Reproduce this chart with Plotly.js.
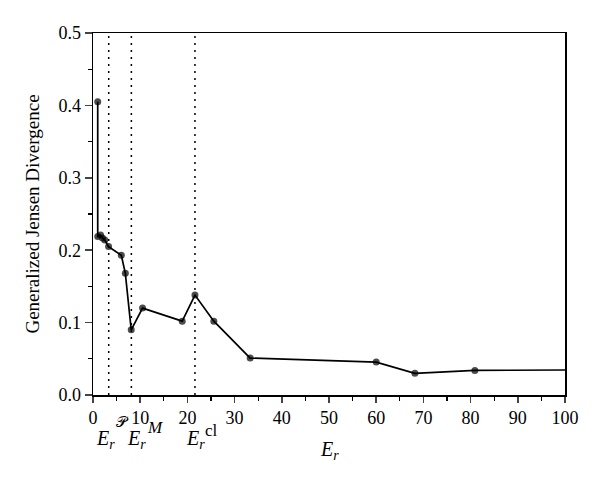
<!DOCTYPE html>
<html>
<head>
<meta charset="utf-8">
<script src="https://cdn.plot.ly/plotly-3.0.1.min.js"></script>
<style>html,body{margin:0;padding:0;background:#fff;}#chart{width:600px;height:483px;}</style>
</head>
<body>
<div id="chart"></div>
<script>
var erValues = [1.0, 1.0, 1.6, 2.0, 2.5, 3.3, 6.0, 6.85, 8.1, 10.5, 18.9, 21.6, 25.6, 33.3, 60.0, 68.2, 80.9, 100];
var jsdValues = [0.405, 0.219, 0.221, 0.217, 0.214, 0.205, 0.193, 0.168, 0.090, 0.120, 0.102, 0.138, 0.102, 0.051, 0.0455, 0.030, 0.034, 0.0345];
var markerSizes = [7, 7, 7, 7, 7, 7, 7, 7, 7, 7, 7, 7, 7, 7, 7, 7, 7, 0];
var thresholds = [3.33, 8.13, 21.6];
var xTickVals = [0, 10, 20, 30, 40, 50, 60, 70, 80, 90, 100];
var yTickVals = [0.0, 0.1, 0.2, 0.3, 0.4, 0.5];
var yTickText = ["0.0", "0.1", "0.2", "0.3", "0.4", "0.5"];

var serif = "Liberation Serif, Times New Roman, serif";

var trace = {
  x: erValues, y: jsdValues, type: 'scatter', mode: 'lines+markers',
  line: {color: '#000', width: 1.7},
  marker: {color: '#000', size: markerSizes, line: {width: 0}},
  cliponaxis: true, showlegend: false, hoverinfo: 'skip'
};

var shapes = thresholds.map(function(v){
  return {type: 'line', xref: 'x', yref: 'paper', x0: v, x1: v, y0: 0, y1: 1,
          line: {color: '#000', width: 1.5, dash: '2px,5px'}};
});

function ann(x, y, text, size, xref) {
  return {x: x, y: y, xref: xref || 'x', yref: 'paper', text: text, showarrow: false,
          xanchor: 'center', yanchor: 'middle', font: {family: serif, size: size, color: '#000'}};
}

var annotations = [
  ann(2.7, -0.124, "<i>E<sub>r</sub></i>", 20),
  ann(6.3, -0.075, "𝒫", 15),
  ann(9.15, -0.124, "<i>E<sub>r</sub></i>", 20),
  ann(13.1, -0.091, "<i>M</i>", 17),
  ann(21.8, -0.124, "<i>E<sub>r</sub></i>", 20),
  ann(25.1, -0.097, "cl", 17),
  ann(0.5, -0.152, "<i>E<sub>r</sub></i>", 20, 'paper')
];

var layout = {
  width: 600, height: 483,
  margin: {l: 93, r: 35, t: 33, b: 88},
  paper_bgcolor: '#fff', plot_bgcolor: '#fff',
  font: {family: serif, size: 18, color: '#000'},
  showlegend: false,
  xaxis: {
    range: [0, 100], tickvals: xTickVals, ticks: 'outside', ticklen: 6, tickwidth: 1.5,
    showline: true, linecolor: '#000', linewidth: 1.5, mirror: true,
    showgrid: false, zeroline: false,
    tickfont: {family: serif, size: 18, color: '#000'},
    minor: {dtick: 5, ticks: 'outside', ticklen: 4, tickwidth: 1.2, tickcolor: '#000', showgrid: false}
  },
  yaxis: {
    range: [0, 0.5], tickvals: yTickVals, ticktext: yTickText, ticks: 'outside', ticklen: 7, tickwidth: 1.5,
    showline: true, linecolor: '#000', linewidth: 1.5, mirror: true,
    showgrid: false, zeroline: false,
    tickfont: {family: serif, size: 18, color: '#000'},
    minor: {dtick: 0.05, ticks: 'outside', ticklen: 4, tickwidth: 1.2, tickcolor: '#000', showgrid: false},
    title: {text: "Generalized Jensen Divergence", font: {family: serif, size: 19, color: '#000'}, standoff: 14}
  },
  shapes: shapes,
  annotations: annotations
};

Plotly.newPlot('chart', [trace], layout, {displayModeBar: false, staticPlot: true});
</script>
</body>
</html>
